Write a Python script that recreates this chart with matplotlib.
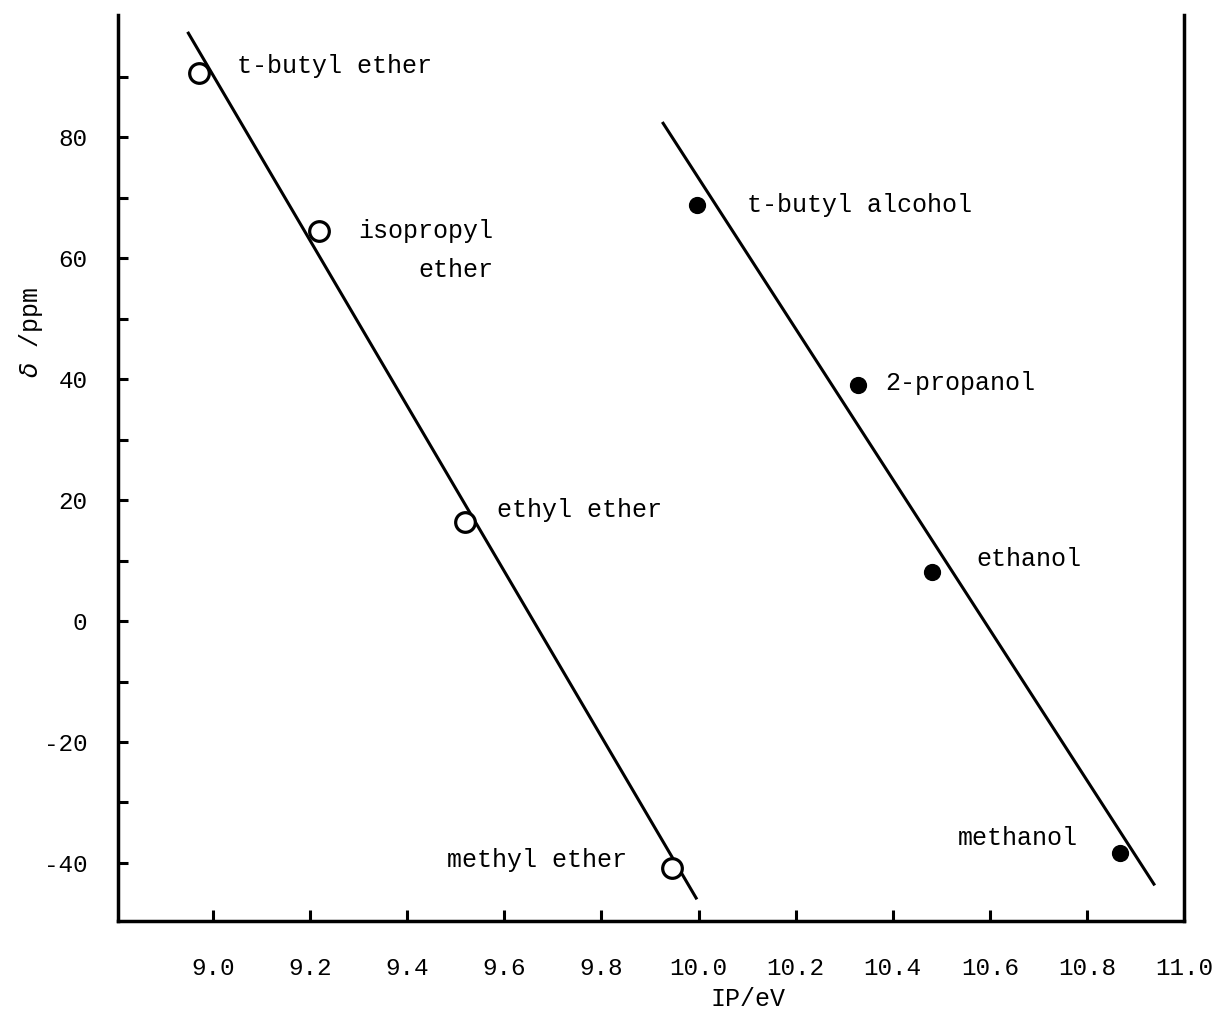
import matplotlib.pyplot as plt
import numpy as np

# ethers (open circles)
ether_names = ["t-butyl ether", "ethyl ether", "methyl ether"]
ether_ip = [8.971, 9.218, 9.519, 9.945]
ether_shift = [90.6, 64.5, 16.4, -40.8]
ether_fit_x = [8.949, 9.995]
ether_fit_y = [97.2, -45.8]

# alcohols (filled circles)
alcohol_names = ["t-butyl alcohol", "2-propanol", "ethanol", "methanol"]
alcohol_ip = [9.997, 10.328, 10.481, 10.868]
alcohol_shift = [68.8, 39.0, 8.1, -38.3]
alcohol_fit_x = [9.927, 10.938]
alcohol_fit_y = [82.3, -43.5]

# label anchor points (left edge, baseline)
ether_label_x = [9.049, 9.585, 9.482]
ether_label_y = [90.6, 17.2, -40.7]
alcohol_label_x = [10.100, 10.384, 10.572, 10.534]
alcohol_label_y = [67.6, 38.2, 9.1, -37.0]

x_ticks = [9.0, 9.2, 9.4, 9.6, 9.8, 10.0, 10.2, 10.4, 10.6, 10.8, 11.0]
y_ticks = [-40, -20, 0, 20, 40, 60, 80]
y_minor = [-30, -10, 10, 30, 50, 70, 90]

plt.rcParams['font.family'] = ['Liberation Mono', 'DejaVu Sans Mono', 'DejaVu Sans']
plt.rcParams['axes.unicode_minus'] = False
fs = 18

fig = plt.figure(figsize=(12.15, 10.15), dpi=100)
ax = fig.add_axes([0.0971, 0.0926, 0.9745 - 0.0971, 0.9852 - 0.0926])

ax.plot(ether_fit_x, ether_fit_y, color='black', lw=2.2, zorder=2)
ax.plot(alcohol_fit_x, alcohol_fit_y, color='black', lw=2.2, zorder=2)
ax.scatter(ether_ip, ether_shift, s=200, facecolor='white', edgecolor='black', linewidths=2.3, zorder=3)
ax.scatter(alcohol_ip, alcohol_shift, s=130, color='black', zorder=3)

for name, x, y in zip(ether_names, ether_label_x, ether_label_y):
    ax.text(x, y, name, fontsize=fs, va='baseline', ha='left')
# two-line label, right aligned
ax.text(9.577, 63.3, "isopropyl", fontsize=fs, va='baseline', ha='right')
ax.text(9.577, 56.9, "ether", fontsize=fs, va='baseline', ha='right')
for name, x, y in zip(alcohol_names, alcohol_label_x, alcohol_label_y):
    ax.text(x, y, name, fontsize=fs, va='baseline', ha='left')

ax.set_xlim(8.804, 11.0)
ax.set_ylim(-49.6, 100.2)
ax.set_xticks(x_ticks)
ax.set_xticklabels(["%.1f" % v for v in x_ticks])
ax.set_yticks(y_ticks)
ax.set_yticks(y_minor, minor=True)
ax.tick_params(axis='both', which='both', direction='in', width=2.2, labelsize=17.5)
ax.tick_params(axis='x', length=8, pad=26)
ax.tick_params(axis='y', which='both', length=7, pad=22)

ax.spines['top'].set_visible(False)
for side in ['left', 'right', 'bottom']:
    ax.spines[side].set_linewidth(2.5)

fig.text(0.0255, 0.672, "$\\delta$ /ppm", rotation=90, fontsize=fs, ha='center', va='center')
fig.text(0.616, 0.004, "IP/eV", fontsize=fs, ha='center', va='bottom')

fig.savefig("out.png", dpi=100, facecolor='white')
